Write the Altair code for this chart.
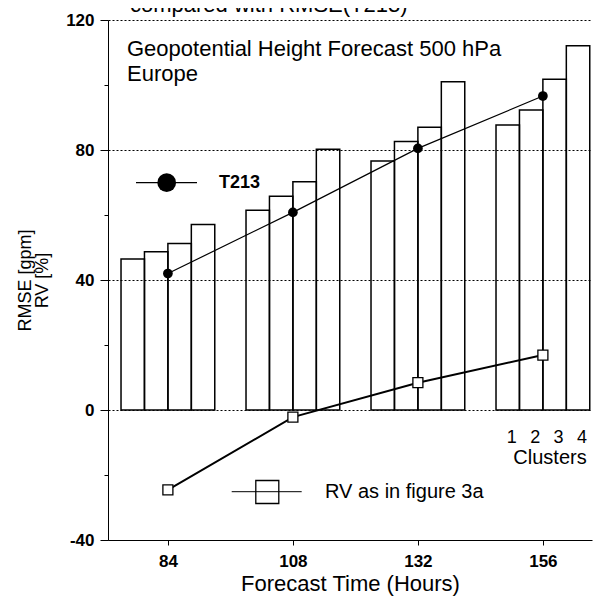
import altair as alt
import pandas as pd

# ---- data ----
hours = [84, 108, 132, 156]
clusters = [1, 2, 3, 4]
rmse_cluster1 = [46.5, 61.5, 76.6, 87.7]
rmse_cluster2 = [48.7, 65.8, 82.6, 92.3]
rmse_cluster3 = [51.2, 70.2, 87.0, 101.8]
rmse_cluster4 = [57.1, 80.2, 101.0, 112.1]
rmse_t213 = [42.0, 60.8, 80.5, 96.6]
rv_percent = [-24.6, -2.2, 8.4, 16.9]
x_ticks = [84, 108, 132, 156]
y_ticks = [-40, -20, 0, 20, 40, 60, 80, 100, 120]
title_fragment = ["compared with RMSE(T213)"]
annotation = ["Geopotential Height Forecast 500 hPa", "Europe"]
legend_t213 = ["T213"]
legend_rv = ["RV as in figure 3a"]
clusters_word = ["Clusters"]

# ---- layout (style only) ----
BAR_W = 4.5  # hours per bar
FONT = "Liberation Sans, Arial, Helvetica, sans-serif"

rows = []
for i, h in enumerate(hours):
    for k, series in zip(clusters, [rmse_cluster1, rmse_cluster2, rmse_cluster3, rmse_cluster4]):
        x0 = h - 2 * BAR_W + (k - 1) * BAR_W
        rows.append({"hour": h, "cluster": k, "x0": x0, "x1": x0 + BAR_W, "rmse": series[i]})
bars_df = pd.DataFrame(rows)

lines_df = pd.DataFrame({"hour": hours, "t213": rmse_t213, "rv": rv_percent})
clus_df = pd.DataFrame({
    "x": [hours[-1] - 2 * BAR_W + (k - 0.5) * BAR_W for k in clusters],
    "label": [str(k) for k in clusters],
})

xscale = alt.Scale(domain=[72.5, 165.43], nice=False, zero=False)
yscale = alt.Scale(domain=[-40, 120], nice=False, zero=False)

major = "datum.value % 40 === 0"
x_axis = alt.Axis(values=x_ticks, title="Forecast Time (Hours)", grid=False,
                  tickSize=5, tickColor="black", domainColor="black",
                  labelFontSize=17, labelFont=FONT, labelColor="black", labelPadding=8,
                  labelFontWeight="bold",
                  titleFontSize=22, titleFont=FONT, titleFontWeight="normal",
                  titleColor="black", titlePadding=4)
y_axis = alt.Axis(values=y_ticks, title=["RMSE [gpm]", "RV [%]"],
                  labelExpr=f"{major} ? ('' + datum.value) : ''",
                  tickSize={"condition": {"test": major, "value": 8}, "value": 4},
                  tickColor="black", domainColor="black",
                  grid=True, gridColor="black", gridDash=[2, 2], gridWidth=1,
                  gridOpacity={"condition": {"test": major, "value": 1}, "value": 0},
                  labelFontSize=17, labelFont=FONT, labelFontWeight="bold",
                  labelColor="black", labelPadding=6,
                  titleFontSize=18, titleFont=FONT, titleFontWeight="normal",
                  titleColor="black", titlePadding=14, titleLineHeight=17)

X = lambda f: alt.X(f, scale=xscale, axis=x_axis)
Y = lambda f: alt.Y(f, scale=yscale, axis=y_axis)

bars = alt.Chart(bars_df).mark_rect(fillOpacity=0, stroke="black", strokeWidth=1.5).encode(
    x=X("x0:Q"), x2="x1:Q", y=Y("rmse:Q"), y2=alt.datum(0),
)

t213_line = alt.Chart(lines_df).mark_line(color="black", strokeWidth=1.2).encode(
    x=X("hour:Q"), y=Y("t213:Q"))
t213_pts = alt.Chart(lines_df).mark_point(shape="circle", filled=True, color="black",
                                          size=95, opacity=1).encode(
    x=X("hour:Q"), y=Y("t213:Q"))
rv_line = alt.Chart(lines_df).mark_line(color="black", strokeWidth=2).encode(
    x=X("hour:Q"), y=Y("rv:Q"))
rv_pts = alt.Chart(lines_df).mark_point(shape="square", filled=False, fill="white",
                                        fillOpacity=1, stroke="black", strokeWidth=1.3,
                                        size=100, opacity=1).encode(
    x=X("hour:Q"), y=Y("rv:Q"))

clus_nums = alt.Chart(clus_df).mark_text(fontSize=18, font=FONT, color="black",
                                         baseline="middle", dx=4).encode(
    x=X("x:Q"), y=alt.value(418), text="label:N")
clus_word = alt.Chart(pd.DataFrame({"t": clusters_word})).mark_text(
    fontSize=20, font=FONT, color="black", baseline="middle", align="center").encode(
    x=alt.value(442), y=alt.value(438), text="t:N")

title_txt = alt.Chart(pd.DataFrame({"t": title_fragment})).mark_text(
    fontSize=22, font=FONT, color="black", align="left", baseline="alphabetic").encode(
    x=alt.value(22), y=alt.value(-8), text="t:N")

annot = alt.Chart(pd.DataFrame({"t": [annotation]})).mark_text(
    fontSize=22, font=FONT, color="black", align="left", baseline="alphabetic",
    lineHeight=25).encode(
    x=alt.value(19), y=alt.value(36), text="t")

one = pd.DataFrame({"t": legend_t213})
leg_t_line = alt.Chart(one).mark_rule(color="black", strokeWidth=1.2).encode(
    x=alt.value(28), x2=alt.value(89), y=alt.value(162.7))
leg_t_dot = alt.Chart(one).mark_point(shape="circle", filled=True, color="black",
                                      size=350, opacity=1).encode(
    x=alt.value(58.7), y=alt.value(162.7))
leg_t_txt = alt.Chart(one).mark_text(fontSize=18, font=FONT, fontWeight="bold",
                                     color="black", align="left", baseline="middle").encode(
    x=alt.value(111), y=alt.value(163), text="t:N")

two = pd.DataFrame({"t": legend_rv})
leg_r_line = alt.Chart(two).mark_rule(color="black", strokeWidth=1).encode(
    x=alt.value(123.7), x2=alt.value(193.7), y=alt.value(471.7))
leg_r_sq = alt.Chart(two).mark_point(shape="square", filled=False, stroke="black",
                                     strokeWidth=1.3, size=529, opacity=1).encode(
    x=alt.value(159.3), y=alt.value(472))
leg_r_txt = alt.Chart(two).mark_text(fontSize=20, font=FONT, color="black",
                                     align="left", baseline="middle").encode(
    x=alt.value(217), y=alt.value(472), text="t:N")

chart = alt.layer(
    bars, t213_line, t213_pts, rv_line, rv_pts, clus_nums, clus_word, title_txt, annot,
    leg_t_line, leg_t_dot, leg_t_txt, leg_r_line, leg_r_sq, leg_r_txt,
).properties(
    width=484, height=520,
    autosize=alt.AutoSizeParams(type="none"),
    padding={"left": 100, "top": 12, "right": 4, "bottom": 62},
    background="white",
).configure_view(strokeWidth=0)

chart.save("out.html", embed_options={"renderer": "svg", "actions": False})
